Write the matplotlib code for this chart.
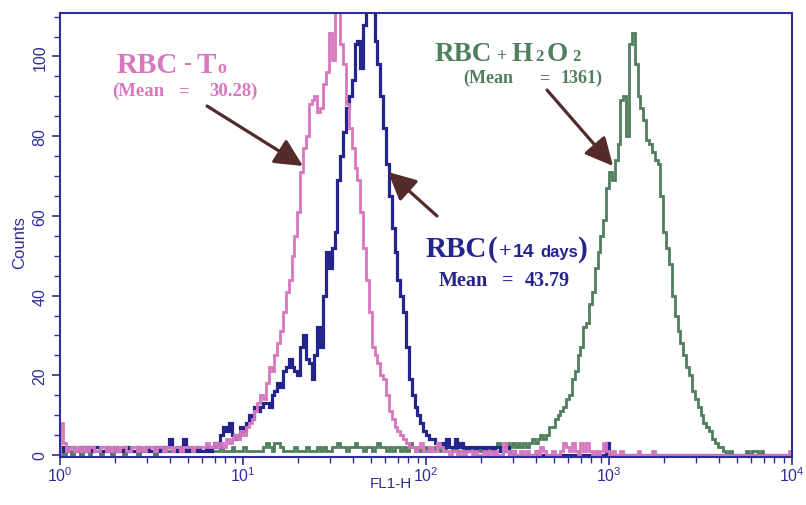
import numpy as np
import matplotlib
matplotlib.use("Agg")
import matplotlib.pyplot as plt
from matplotlib.patches import FancyArrowPatch

plt.rcParams['font.family'] = ['Liberation Sans', 'DejaVu Sans']
plt.rcParams['mathtext.default'] = 'regular'

# 256 log channels over 4 decades (FL1-H)
n_channels = 256
decades = 4

rbc_t0 = [
    8, 3, 1, 2, 2, 1, 2, 1, 2, 1,
    2, 2, 1, 1, 2, 2, 1, 2, 1, 2,
    1, 2, 2, 1, 1, 2, 2, 1, 2, 1,
    2, 2, 2, 1, 2, 2, 1, 2, 2, 1,
    2, 2, 1, 2, 2, 2, 1, 2, 2, 2,
    2, 3, 2, 2, 3, 2, 3, 2, 4, 3,
    4, 5, 4, 6, 5, 7, 8, 9, 11, 13,
    15, 14, 18, 22, 21, 25, 28, 31, 36, 41,
    44, 50, 55, 61, 71, 77, 80, 88, 89, 90,
    86, 87, 93, 96, 106, 99, 112, 116, 103, 98,
    88, 82, 77, 72, 69, 61, 52, 44, 36, 27,
    25, 23, 20, 19, 15, 11, 9, 7, 6, 5,
    4, 3, 2, 2, 1, 2, 3, 1, 1, 2,
    1, 1, 3, 2, 1, 1, 0, 1, 1, 0,
    1, 0, 1, 1, 0, 1, 0, 0, 1, 0,
    1, 0, 1, 0, 0, 3, 1, 0, 1, 0,
    0, 1, 0, 1, 0, 0, 1, 0, 2, 1,
    0, 0, 1, 0, 0, 1, 3, 2, 1, 3,
    1, 0, 3, 1, 3, 1, 0, 1, 0, 1,
    3, 1, 0, 1, 0, 0, 1, 0, 0, 0,
    0, 0, 1, 0, 0, 0, 0, 1, 0, 0,
    0, 0, 0, 0, 0, 0, 0, 0, 0, 0,
    0, 0, 0, 0, 0, 0, 0, 0, 0, 0,
    0, 0, 0, 0, 0, 0, 0, 0, 0, 0,
    0, 0, 0, 0, 0, 0, 0, 0, 0, 0,
    0, 0, 0, 0, 0, 1,
]

rbc_14d = [
    1, 2, 1, 2, 2, 1, 1, 2, 2, 1,
    2, 1, 2, 2, 1, 1, 2, 1, 1, 2,
    1, 1, 2, 1, 2, 1, 1, 2, 1, 1,
    2, 1, 1, 2, 1, 2, 1, 2, 4, 1,
    1, 2, 1, 4, 1, 2, 1, 1, 2, 1,
    1, 2, 1, 2, 3, 2, 5, 7, 6, 8,
    5, 4, 5, 7, 6, 8, 10, 9, 12, 11,
    12, 13, 13, 12, 15, 16, 18, 17, 21, 22,
    24, 22, 21, 20, 27, 30, 24, 23, 19, 25,
    32, 27, 40, 51, 47, 52, 56, 69, 75, 81,
    87, 90, 94, 103, 104, 97, 108, 113, 115, 112,
    104, 98, 90, 82, 73, 65, 57, 51, 44, 40,
    36, 27, 19, 15, 12, 10, 8, 6, 5, 4,
    4, 3, 3, 3, 2, 4, 2, 2, 4, 2,
    3, 2, 1, 2, 2, 1, 2, 2, 1, 2,
    2, 1, 2, 2, 1, 1, 2, 0, 1, 0,
    0, 0, 0, 0, 0, 0, 0, 0, 0, 0,
    0, 0, 0, 0, 0, 0, 0, 0, 0, 0,
    0, 0, 0, 0, 0, 0, 0, 0, 0, 0,
    0, 3, 0, 0, 0, 0, 0, 0, 0, 0,
    0, 0, 0, 0, 0, 0, 0, 0, 0, 0,
    0, 0, 0, 0, 0, 0, 0, 0, 0, 0,
    0, 0, 0, 0, 0, 0, 0, 0, 0, 0,
    0, 0, 0, 0, 0, 0, 0, 0, 0, 0,
    0, 0, 0, 0, 0, 0, 0, 0, 0, 0,
    0, 0, 0, 0, 0, 0,
]

rbc_h2o2 = [
    1, 0, 1, 1, 0, 1, 1, 0, 1, 1,
    0, 1, 1, 1, 0, 1, 1, 1, 0, 1,
    1, 1, 0, 1, 1, 1, 1, 0, 1, 1,
    1, 1, 1, 0, 1, 1, 1, 1, 1, 1,
    1, 1, 1, 1, 1, 2, 1, 1, 1, 1,
    1, 1, 1, 1, 1, 1, 2, 1, 1, 1,
    2, 1, 1, 1, 2, 1, 1, 1, 1, 1,
    1, 2, 3, 2, 1, 3, 3, 2, 1, 1,
    1, 1, 2, 1, 1, 1, 2, 1, 1, 1,
    2, 1, 2, 1, 1, 2, 2, 3, 2, 2,
    1, 2, 2, 3, 2, 2, 1, 2, 2, 1,
    2, 3, 2, 2, 1, 2, 1, 2, 2, 1,
    2, 1, 3, 2, 1, 2, 1, 1, 2, 1,
    1, 2, 2, 1, 1, 2, 2, 1, 2, 1,
    1, 2, 1, 1, 2, 1, 2, 1, 1, 2,
    1, 2, 2, 3, 2, 2, 3, 2, 3, 2,
    3, 2, 3, 2, 3, 4, 3, 4, 5, 4,
    5, 7, 7, 9, 10, 11, 12, 14, 15, 19,
    21, 25, 27, 32, 33, 38, 41, 47, 51, 55,
    59, 67, 71, 69, 74, 78, 89, 90, 80, 103,
    106, 98, 90, 87, 84, 79, 78, 76, 74, 73,
    65, 56, 52, 48, 40, 35, 31, 28, 25, 22,
    20, 16, 14, 12, 10, 8, 7, 6, 4, 3,
    2, 2, 1, 0, 1, 0, 0, 0, 0, 0,
    1, 0, 1, 1, 0, 1, 0, 0, 0, 0,
    0, 0, 0, 0, 0, 0,
]

pink = '#d877be'
navy = '#24248e'
green = '#4f7f5c'
axis_col = '#2e2e96'
arrow_col = '#552a2a'

W, H = 806, 506
fig = plt.figure(figsize=(W / 100, H / 100), dpi=100)
ax = fig.add_axes([60 / W, (H - 458) / H, 732 / W, 444 / H])

edges = 10 ** (np.arange(n_channels + 1) / (n_channels / decades))
ax.stairs(rbc_h2o2, edges, color=green, lw=2.0)
ax.stairs(rbc_14d, edges, color=navy, lw=2.3)
ax.stairs(rbc_t0, edges, color=pink, lw=2.0)

ax.set_xscale('log')
ax.set_xlim(1, 1e4)
ax.set_ylim(-0.5, 110.9)
ax.set_yticks([0, 20, 40, 60, 80, 100])
ax.set_yticks(np.arange(0, 111, 5), minor=True)

for s in ax.spines.values():
    s.set_color(axis_col)
    s.set_linewidth(1.5)
ax.tick_params(which='major', direction='out', length=6, width=1.2,
               color=axis_col, labelcolor=axis_col)
ax.tick_params(which='minor', direction='out', length=4, width=1.0, color=axis_col)
ax.tick_params(axis='x', labelsize=11.5, pad=0)
ax.tick_params(axis='y', labelsize=11.5, pad=3)
plt.setp(ax.get_yticklabels(), rotation=90, va='center')

ax.set_xlabel('FL1-H', color=axis_col, fontsize=11)
ax.xaxis.set_label_coords(0.452, -0.042)
ax.set_ylabel('Counts', color=axis_col, fontsize=12)
ax.yaxis.set_label_coords(-0.045, 0.485)


def put(x, y, s, size, color, ha='left', family='Liberation Serif'):
    fig.text(x / W, 1 - y / H, s, fontsize=size, color=color, ha=ha,
             va='baseline', fontweight='bold', family=family)


# RBC - T0
put(117, 73, 'RBC', 21, pink)
put(187, 70, '-', 17, pink, ha='center')
put(197, 73, 'T', 21, pink)
put(217, 73, 'o', 13, pink)
put(112, 96, '(Mean', 13.5, pink)
put(183, 96, '=', 13.5, pink, ha='center')
put(258, 96, '30.28)', 13.5, pink, ha='right')

# RBC + H2O2
put(435, 61, 'RBC', 19.5, green)
put(502, 61, '+', 13, green, ha='center')
put(512, 61, 'H', 19.5, green)
put(535, 61, '2', 12, green)
put(547, 61, 'O', 19.5, green)
put(572, 61, '2', 12, green)
put(463, 83, '(Mean', 13, green)
put(544, 83, '=', 13, green, ha='center')
put(603, 83, '1361)', 13, green, ha='right')

# RBC (+14 days)
put(426, 257, 'RBC', 21, navy)
put(488, 257, '(', 21, navy)
put(499, 257, '+', 16, navy)
put(513, 257, '14', 14, navy, family='Liberation Sans')
put(540, 257, 'days', 12, navy, family='Liberation Sans')
put(578, 257, ')', 21, navy)
put(439, 286, 'Mean', 14.5, navy)
put(508, 286, '=', 14.5, navy, ha='center')
put(570, 286, '43.79', 14.5, navy, ha='right')

arrows = [((303, 167), (207, 107)), ((388, 173), (437, 217)), ((613, 167), (547, 91))]
for head, tail in arrows:
    fig.add_artist(FancyArrowPatch(
        (tail[0] / W, 1 - tail[1] / H), (head[0] / W, 1 - head[1] / H),
        transform=fig.transFigure, arrowstyle='-|>,head_length=0.85,head_width=0.42',
        mutation_scale=20, lw=2.3, color=arrow_col, shrinkA=0, shrinkB=0))

fig.savefig('out.png', dpi=100)
